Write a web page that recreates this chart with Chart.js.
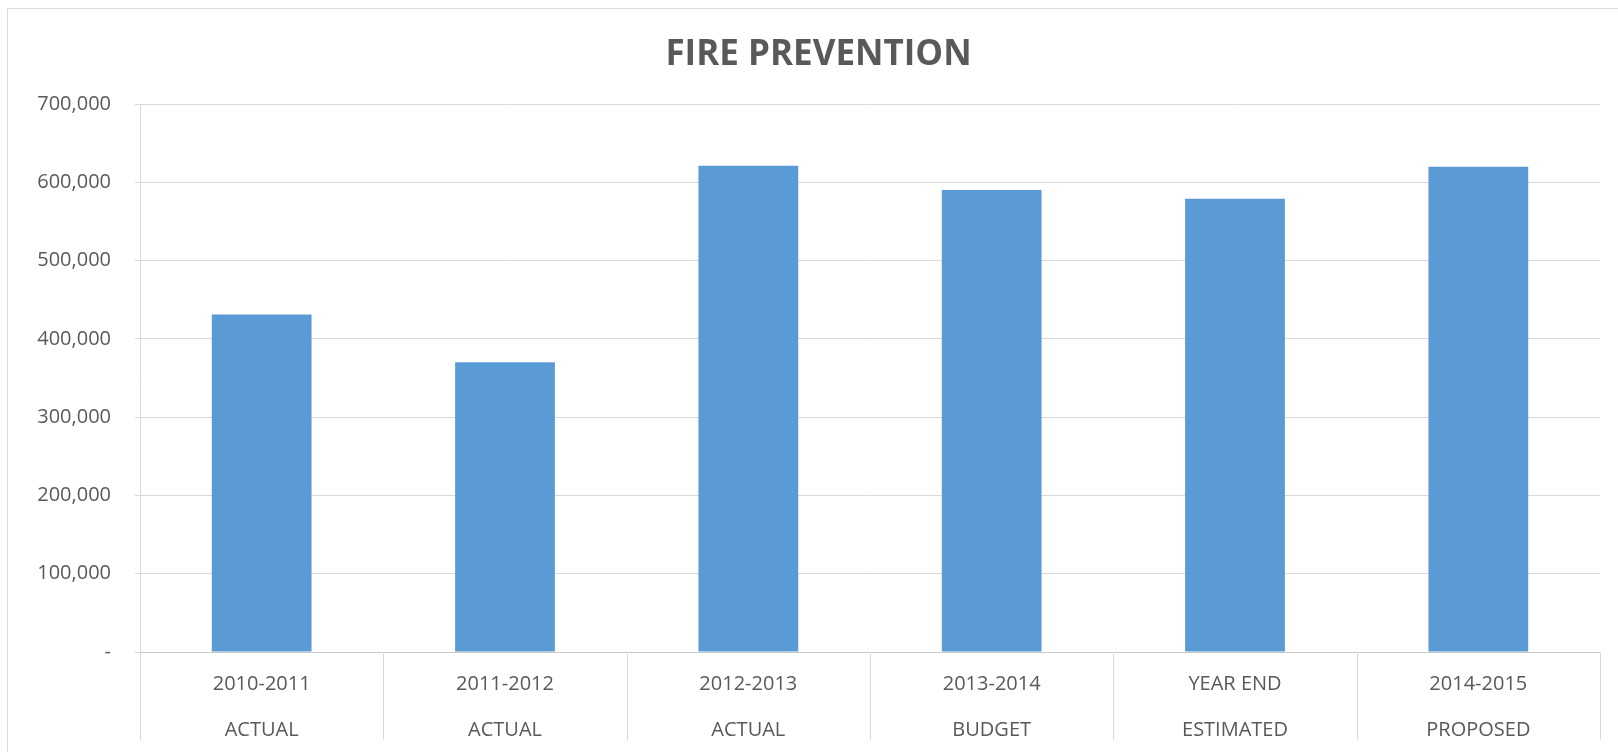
<!DOCTYPE html>
<html>
<head>
<meta charset="utf-8">
<script src="https://cdn.jsdelivr.net/npm/chart.js@4"></script>
<style>
  html, body { margin: 0; padding: 0; background: #fff; }
  #wrap { position: relative; width: 1618px; height: 752px; }
  #frame { position: absolute; left: 7px; top: 8px; right: -10px; bottom: -10px;
           border-left: 1px solid #dcdcdc; border-top: 1px solid #dcdcdc; pointer-events: none; }
</style>
</head>
<body>
<div id="wrap">
  <canvas id="fireChart" width="1618" height="752"></canvas>
  <div id="frame"></div>
</div>
<script>
// categories (two-line labels)
const years = ['2010-2011', '2011-2012', '2012-2013', '2013-2014', 'YEAR END', '2014-2015'];
const kinds = ['ACTUAL', 'ACTUAL', 'ACTUAL', 'BUDGET', 'ESTIMATED', 'PROPOSED'];
// values
const amounts = [431000, 370000, 621000, 590000, 579000, 620000];
// y axis
const yMax = 700000;
const yStep = 100000;

const textColor = '#595959';
const gridColor = '#d9d9d9';

// separators between the category labels, below the axis (like excel)
const labelSeparators = {
  id: 'labelSeparators',
  afterDraw(chart) {
    const x = chart.scales.x;
    const ctx = chart.ctx;
    const half = (x.getPixelForValue(1) - x.getPixelForValue(0)) / 2;
    ctx.save();
    ctx.strokeStyle = gridColor;
    ctx.lineWidth = 1;
    ctx.beginPath();
    for (let i = 0; i <= years.length; i++) {
      const px = Math.round(x.getPixelForValue(i) - half) + 0.5;
      ctx.moveTo(px, chart.chartArea.bottom);
      ctx.lineTo(px, chart.chartArea.bottom + 88);
    }
    ctx.stroke();
    ctx.restore();
  }
};

const fireData = {
  labels: years.map((y, i) => [y, kinds[i]]),
  datasets: [{
    data: amounts,
    backgroundColor: '#5b9bd5',
    barPercentage: 0.41,
    categoryPercentage: 1.0
  }]
};

const fireConfig = {
  type: 'bar',
  data: fireData,
  options: {
    responsive: false,
    animation: false,
    layout: {
      padding: { left: 37, right: 18, top: 0, bottom: 0 }
    },
    plugins: {
      legend: { display: false },
      tooltip: { enabled: false },
      title: {
        display: true,
        text: 'FIRE PREVENTION',
        color: textColor,
        font: { family: 'Open Sans', size: 35, weight: 'bold', lineHeight: 1.2 },
        padding: { top: 34, bottom: 28 }
      }
    },
    scales: {
      x: {
        afterFit: s => { s.height = 100; },
        grid: {
          display: true,
          drawOnChartArea: false,
          drawTicks: false,
          color: gridColor
        },
        border: { color: '#c8c8c8' },
        ticks: {
          color: textColor,
          font: { family: 'Open Sans', size: 20, lineHeight: 2.3 },
          padding: 9,
          maxRotation: 0,
          autoSkip: false
        }
      },
      y: {
        min: 0,
        max: yMax,
        afterFit: s => { s.width = 103; },
        grid: { color: gridColor, tickLength: 5 },
        border: { color: gridColor },
        ticks: {
          stepSize: yStep,
          color: textColor,
          font: { family: 'Open Sans', size: 20 },
          padding: 24,
          callback: v => v === 0 ? '-' : v.toLocaleString('en-US')
        }
      }
    }
  },
  plugins: [labelSeparators]
};

const fireChart = new Chart(document.getElementById('fireChart'), fireConfig);
</script>
</body>
</html>
